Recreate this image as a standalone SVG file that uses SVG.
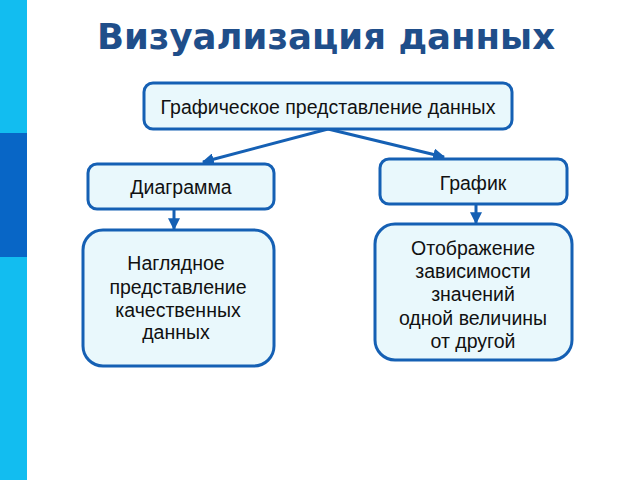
<svg xmlns="http://www.w3.org/2000/svg" width="640" height="480" viewBox="0 0 640 480">
<defs>
<marker id="ah" viewBox="0 0 10 10" refX="9" refY="5" markerWidth="4" markerHeight="4" orient="auto" markerUnits="strokeWidth">
<path d="M0,0 L10,5 L0,10 z" fill="#1560b4"/>
</marker>
<style>
.box{fill:#e9f8fc;stroke:#1560b4;stroke-width:3}
.t{font-family:"Liberation Sans",Arial,sans-serif;font-size:19.5px;fill:#111;text-anchor:middle}
.c{stroke:#1560b4;stroke-width:3;fill:none;marker-end:url(#ah)}
</style>
</defs>
<rect width="640" height="480" fill="#fff"/>
<rect x="0" y="0" width="27" height="480" fill="#12bdf0"/>
<rect x="0" y="133" width="27" height="124" fill="#0866c6"/>
<text x="326" y="49" font-family="DejaVu Sans,sans-serif" font-weight="bold" font-size="35.5" fill="#1f4e8a" text-anchor="middle">Визуализация данных</text>
<g id="connectors">
<line class="c" x1="328" y1="129" x2="203" y2="162"/>
<line class="c" x1="328" y1="129" x2="444" y2="157"/>
<line class="c" x1="174" y1="209" x2="174" y2="229"/>
<line class="c" x1="476" y1="204" x2="476" y2="223"/>
</g>
<g id="n-root"><rect class="box" x="144" y="83" width="368" height="46" rx="9"/><text class="t" x="328" y="114">Графическое представление данных</text></g>
<g id="n-diagram"><rect class="box" x="88" y="164" width="186" height="45" rx="9"/><text class="t" x="181" y="194">Диаграмма</text></g>
<g id="n-graph"><rect class="box" x="380" y="159" width="187" height="45" rx="9"/><text class="t" x="473" y="190">График</text></g>
<g id="n-diagram-desc"><rect class="box" x="83" y="230" width="191" height="136" rx="20"/>
<text class="t" x="176" y="270">Наглядное</text>
<text class="t" x="178" y="294">представление</text>
<text class="t" x="178" y="317">качественных</text>
<text class="t" x="176" y="339">данных</text></g>
<g id="n-graph-desc"><rect class="box" x="375" y="224" width="197" height="136" rx="20"/>
<text class="t" x="473" y="255">Отображение</text>
<text class="t" x="473" y="278">зависимости</text>
<text class="t" x="473" y="301">значений</text>
<text class="t" x="473" y="325">одной величины</text>
<text class="t" x="473" y="348">от другой</text></g>
</svg>
